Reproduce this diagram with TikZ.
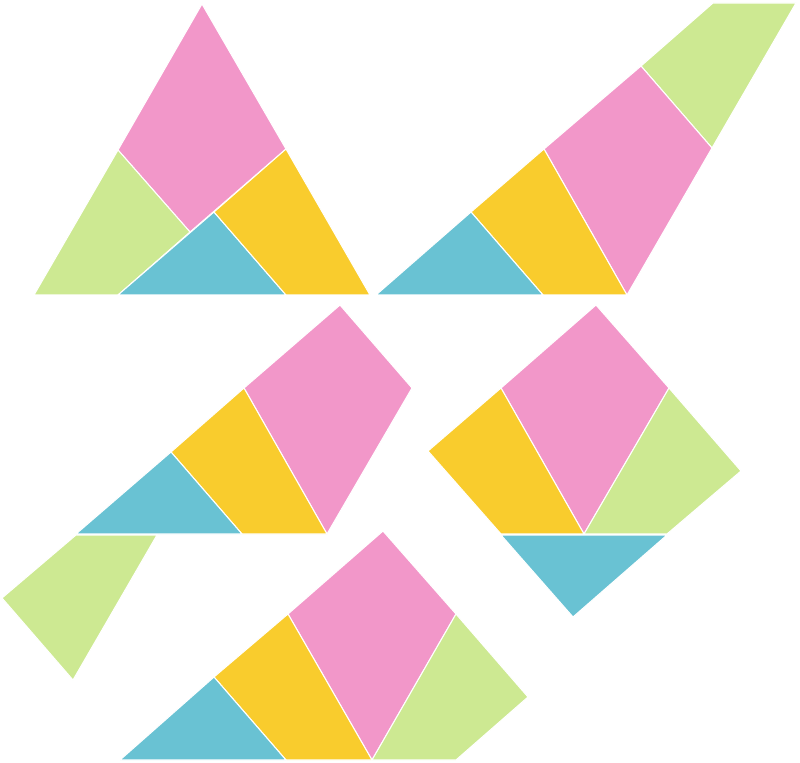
\documentclass[tikz,border=0pt]{standalone}
\usepackage{tikz}
\usetikzlibrary{positioning}
\definecolor{tanpink}{HTML}{F297C9}
\definecolor{tangreen}{HTML}{CDE992}
\definecolor{tanyellow}{HTML}{F9CC2D}
\definecolor{tanblue}{HTML}{69C2D3}
\tikzset{
    piece/.style={draw=white, line width=0.9pt, line join=miter},
    pinkpc/.style={piece, fill=tanpink},
    greenpc/.style={piece, fill=tangreen},
    yellowpc/.style={piece, fill=tanyellow},
    bluepc/.style={piece, fill=tanblue},
}
\begin{document}
\begin{tikzpicture}[x=0.03cm, y=-0.03cm]
\useasboundingbox (0,0) rectangle (800,763);
% top left
\draw[pinkpc] (202,4) -- (286,149) -- (190,232) -- (118,150) -- cycle;
\draw[greenpc] (118,150) -- (190,232) -- (118,295) -- (34,295) -- cycle;
\draw[bluepc] (118,295) -- (214,212) -- (286,295) -- cycle;
\draw[yellowpc] (214,212) -- (286,149) -- (370,295) -- (286,295) -- cycle;
% top right
\draw[greenpc] (713,3) -- (796,3) -- (712,148) -- (641,66) -- cycle;
\draw[pinkpc] (641,66) -- (712,148) -- (627,295) -- (544,149) -- cycle;
\draw[yellowpc] (544,149) -- (627,295) -- (543,295) -- (471,212) -- cycle;
\draw[bluepc] (471,212) -- (543,295) -- (376,295) -- cycle;
% middle left
\draw[pinkpc] (340,305) -- (412,388) -- (327,534) -- (244,388) -- cycle;
\draw[yellowpc] (244,388) -- (327,534) -- (242,534) -- (171,452) -- cycle;
\draw[bluepc] (171,452) -- (242,534) -- (76,534) -- cycle;
\draw[greenpc] (76,535) -- (157,535) -- (73,680) -- (2,598) -- cycle;
% middle right
\draw[pinkpc] (596,305) -- (669,388) -- (584,534) -- (501,388) -- cycle;
\draw[yellowpc] (501,388) -- (584,534) -- (501,534) -- (428,451) -- cycle;
\draw[greenpc] (669,388) -- (741,471) -- (667,534) -- (584,534) -- cycle;
\draw[bluepc] (501,535) -- (667,535) -- (573,617) -- cycle;
% bottom
\draw[pinkpc] (383,531) -- (456,614) -- (372,760) -- (288,614) -- cycle;
\draw[yellowpc] (288,614) -- (372,760) -- (286,760) -- (214,677) -- cycle;
\draw[bluepc] (214,677) -- (286,760) -- (120,760) -- cycle;
\draw[greenpc] (456,614) -- (528,697) -- (456,760) -- (372,760) -- cycle;
\end{tikzpicture}
\end{document}
